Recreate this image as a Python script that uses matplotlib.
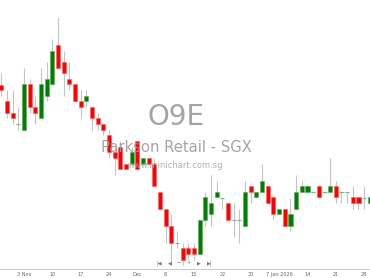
import matplotlib
matplotlib.use("Agg")
import matplotlib.pyplot as plt
import numpy as np

# Daily OHLC (SGD) for O9E, 28 Oct 2025 .. 29 Jan 2026 (trading days)
opens = [0.060, 0.057, 0.055, 0.053, 0.052, 0.060, 0.056, 0.054, 0.058, 0.060,
         0.067, 0.064, 0.061, 0.060, 0.057, 0.057, 0.056, 0.054, 0.053, 0.051,
         0.048, 0.049, 0.046, 0.046, 0.050, 0.046, 0.047, 0.046, 0.041, 0.038,
         0.035, 0.032, 0.031, 0.031, 0.031, 0.030, 0.036, 0.037, 0.040, 0.040,
         0.039, 0.036, 0.036, 0.035, 0.042, 0.040, 0.041, 0.042, 0.040, 0.037,
         0.038, 0.035, 0.038, 0.041, 0.041, 0.041, 0.042, 0.041, 0.041, 0.042,
         0.041, 0.041, 0.040, 0.040, 0.040, 0.039]
highs = [0.062, 0.059, 0.059, 0.056, 0.063, 0.061, 0.058, 0.063, 0.064, 0.068,
         0.072, 0.066, 0.064, 0.060, 0.059, 0.059, 0.056, 0.055, 0.053, 0.052,
         0.048, 0.050, 0.046, 0.049, 0.050, 0.047, 0.047, 0.047, 0.041, 0.038,
         0.037, 0.034, 0.032, 0.032, 0.032, 0.036, 0.041, 0.044, 0.043, 0.040,
         0.039, 0.039, 0.038, 0.043, 0.042, 0.041, 0.046, 0.042, 0.040, 0.038,
         0.038, 0.040, 0.044, 0.043, 0.042, 0.041, 0.042, 0.041, 0.047, 0.043,
         0.041, 0.041, 0.042, 0.040, 0.042, 0.040]
lows = [0.058, 0.054, 0.053, 0.052, 0.052, 0.055, 0.053, 0.054, 0.057, 0.060,
        0.063, 0.058, 0.059, 0.057, 0.054, 0.056, 0.052, 0.052, 0.051, 0.047,
        0.044, 0.045, 0.045, 0.046, 0.045, 0.046, 0.046, 0.042, 0.038, 0.032,
        0.028, 0.031, 0.028, 0.029, 0.029, 0.030, 0.035, 0.035, 0.040, 0.038,
        0.036, 0.033, 0.032, 0.035, 0.039, 0.040, 0.041, 0.039, 0.036, 0.037,
        0.035, 0.034, 0.038, 0.041, 0.041, 0.041, 0.040, 0.041, 0.041, 0.039,
        0.039, 0.039, 0.038, 0.038, 0.038, 0.039]
closes = [0.059, 0.055, 0.054, 0.053, 0.060, 0.056, 0.055, 0.060, 0.061, 0.066,
          0.063, 0.062, 0.060, 0.057, 0.056, 0.058, 0.054, 0.053, 0.052, 0.048,
          0.047, 0.045, 0.045, 0.048, 0.045, 0.047, 0.046, 0.042, 0.038, 0.035,
          0.032, 0.032, 0.029, 0.030, 0.030, 0.036, 0.040, 0.039, 0.041, 0.040,
          0.036, 0.036, 0.036, 0.041, 0.041, 0.041, 0.043, 0.039, 0.037, 0.038,
          0.035, 0.037, 0.041, 0.042, 0.042, 0.041, 0.040, 0.041, 0.042, 0.040,
          0.041, 0.041, 0.039, 0.039, 0.040, 0.040]

tick_labels = ["3 Nov", "10", "17", "24", "Dec", "8", "15", "22", "30",
               "7 Jan 2026", "14", "21", "28"]
first_tick_index = 4
tick_step = 5

title = "O9E"
subtitle = "Parkson Retail - SGX"
site = "www.minichart.com.sg"

W, H = 370, 278
fig = plt.figure(figsize=(W / 100, H / 100), dpi=100)
ax = fig.add_axes([0, 9 / H, 1, 1 - 9 / H])

n = len(opens)
x = np.arange(n)
o = np.array(opens); c = np.array(closes)
hi = np.array(highs); lo = np.array(lows)

ax.vlines(x, lo, hi, color="#c4c4c4", linewidth=0.8, zorder=1)
up = c > o
dn = c < o
eq = c == o
bw = 0.76
ax.bar(x[up], c[up] - o[up], bottom=o[up], width=bw, color="#008000",
       edgecolor="#5aa85a", linewidth=0.4, zorder=2)
ax.bar(x[dn], o[dn] - c[dn], bottom=c[dn], width=bw, color="#ff0000",
       edgecolor="#ff6060", linewidth=0.4, zorder=2)
ax.hlines(c[eq], x[eq] - bw / 2, x[eq] + bw / 2, color="#7fb87f",
          linewidth=0.8, zorder=2)

px_per_idx = 5.667
ax.set_xlim(-1.33 / px_per_idx, (W - 1.33) / px_per_idx)
# price to pixel: 0.001 per 5.65 px, 0.030 at y=254 px from top
ax_h_px = H - 9
top_price = 0.030 + 254 / 5650
ax.set_ylim(top_price - ax_h_px / 5650, top_price)

ticks = [first_tick_index + tick_step * k for k in range(len(tick_labels))]
ax.set_xticks(ticks)
ax.set_xticklabels(tick_labels, fontsize=3.6, color="#666666")
ax.tick_params(axis="x", length=0, pad=2.5)
ax.set_yticks([])
for s in ["top", "left", "right"]:
    ax.spines[s].set_visible(False)
ax.spines["bottom"].set_color("#cccccc")
ax.spines["bottom"].set_linewidth(0.8)

# watermark texts
fig.text(176 / W, 1 - 117 / H, title, fontsize=20, color="#9a9a9a",
         ha="center", va="center", alpha=0.9, zorder=0)
fig.text(176 / W, 1 - 147 / H, subtitle, fontsize=10.6, color="#9a9a9a",
         ha="center", va="center", alpha=0.9, zorder=0)
fig.text(175 / W, 1 - 165 / H, site, fontsize=6.0, color="#a8a8a8",
         ha="center", va="center", alpha=0.9, zorder=0)

# navigation controls
nav = ["|◀", "◀", "−", "+", "▶", "▶|"]
nav_x = [158.7, 169.7, 179, 189, 199, 209.3]
for t, xx in zip(nav, nav_x):
    fig.text(xx / W, 1 - 263 / H, t, fontsize=3.6, color="#777777",
             ha="center", va="center")

fig.savefig("out.png", dpi=100)
